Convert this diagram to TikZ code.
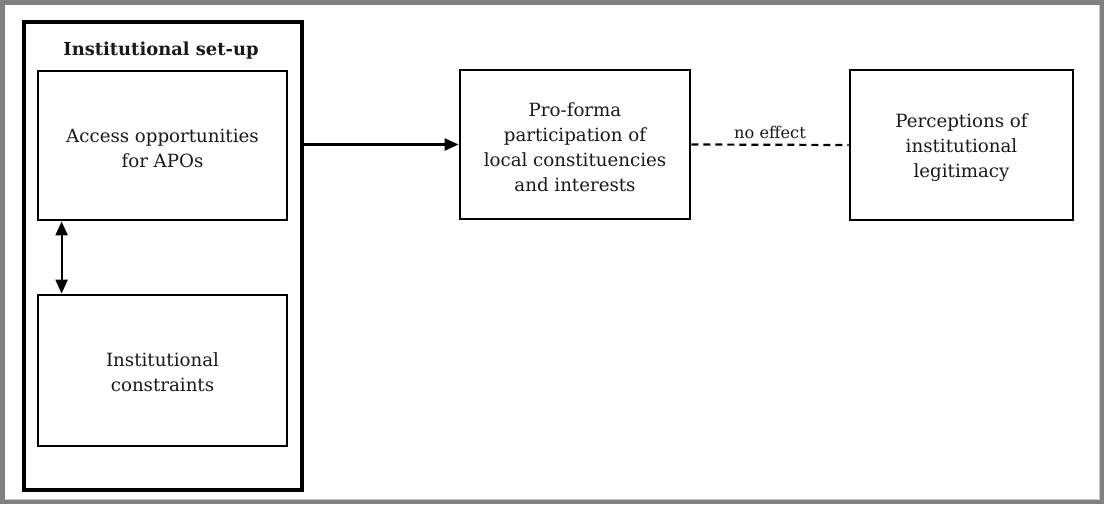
\documentclass[tikz,border=0pt]{standalone}
\usepackage{fontspec}
\setmainfont{DejaVu Serif}
\usetikzlibrary{arrows.meta}
\definecolor{framegray}{RGB}{128,128,128}
\definecolor{framelight}{RGB}{200,200,200}
\definecolor{txt}{RGB}{25,25,25}
\tikzset{
  box/.style={draw=black, line width=2.8pt, inner sep=0pt},
  boxtext/.style={text=txt, align=center, inner sep=0pt,
    font=\fontsize{18.2}{25}\selectfont},
  link/.style={line width=2.2pt, -{Triangle[length=14pt,width=12pt]}},
  biglink/.style={line width=2.2pt, {Triangle[length=14pt,width=12pt]}-{Triangle[length=14pt,width=12pt]}},
  nolink/.style={line width=2.2pt, dash pattern=on 7pt off 5pt},
}
\begin{document}
\begin{tikzpicture}[x=1pt,y=-1pt]
  % page frame
  \fill[framegray] (0,0) rectangle (1104,504);
  \fill[framelight] (5,5) rectangle (1100,500);
  \fill[white] (5,5) rectangle (1099,499);
  \useasboundingbox (0,0) rectangle (1104,504);

  % institutional set-up container
  \node[box, line width=3.2pt, minimum width=278pt, minimum height=468pt] (setup) at (163,256) {};
  \node[text=txt, font=\fontsize{17.9}{25}\selectfont\bfseries, anchor=base] (title) at (161,55) {Institutional set-up};

  \node[box, minimum width=249pt, minimum height=149pt] (access) at (162.5,145.5) {};
  \node[boxtext] (accesstext) at ([yshift=-3pt]access.center) {Access opportunities\\for APOs};
  \node[box, minimum width=249pt, minimum height=151pt] (constr) at (162.5,370.5) {};
  \node[boxtext] (constrtext) at ([yshift=-2pt]constr.center) {Institutional\\constraints};

  % outcome boxes
  \node[box, minimum width=230pt, minimum height=149pt] (proforma) at (575,144.5) {};
  \node[boxtext] (proformatext) at ([yshift=-3pt]proforma.center) {Pro-forma\\participation of\\local constituencies\\and interests};
  \node[box, minimum width=223pt, minimum height=150pt] (legit) at (961.5,145) {};
  \node[boxtext] (legittext) at ([yshift=-3pt]legit.center) {Perceptions of\\institutional\\legitimacy};

  % connectors
  \draw[biglink] ([xshift=25pt]access.south west) -- ([xshift=25pt]constr.north west);
  \draw[link] (setup.east |- proforma.west) -- (proforma.west);
  \draw[nolink] (proforma.east) -- node[above=2pt, text=txt, font=\fontsize{16.2}{18}\selectfont] (noeff) {no effect} (legit.west);
\end{tikzpicture}
\end{document}
